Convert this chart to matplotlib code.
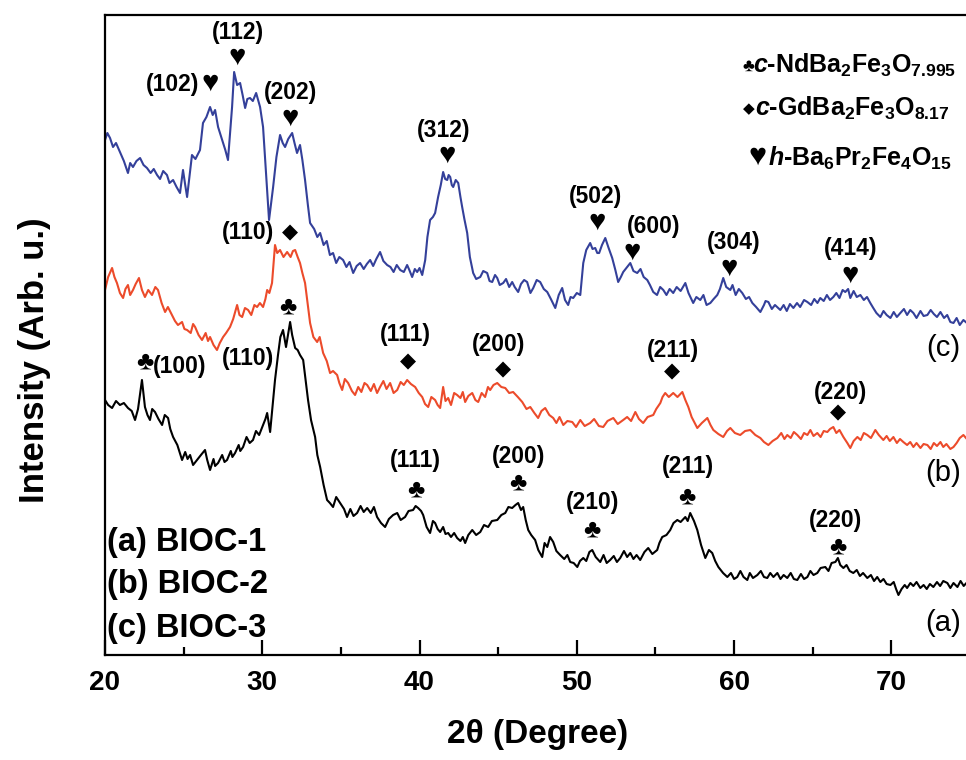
import matplotlib
matplotlib.use('Agg')
import matplotlib.pyplot as plt

plt.rcParams['font.family'] = ['Liberation Sans', 'DejaVu Sans']
plt.rcParams['mathtext.fontset'] = 'custom'
plt.rcParams['mathtext.rm'] = 'Liberation Sans:bold'
plt.rcParams['mathtext.it'] = 'Liberation Sans:italic:bold'
plt.rcParams['mathtext.bf'] = 'Liberation Sans:bold'

# (c) BIOC-3, blue  -- (2theta, intensity in arb. units)
pts_c = [(20.00, 515), (20.15, 522), (20.32, 517), (20.51, 508), (20.7, 512), (20.95, 503),
         (21.2, 494), (21.46, 482), (21.6, 492), (21.78, 488), (22.0, 494), (22.23, 497),
         (22.45, 490), (22.67, 487), (22.9, 482), (23.1, 486), (23.31, 480), (23.5, 476),
         (23.7, 484), (23.94, 480), (24.1, 472), (24.33, 475), (24.55, 468), (24.77, 462),
         (24.96, 485), (25.1, 470), (25.22, 458), (25.4, 482), (25.53, 500), (25.75, 496),
         (26.04, 505), (26.23, 532), (26.45, 538), (26.68, 548), (26.85, 540), (27.00, 545),
         (27.19, 528), (27.35, 520), (27.51, 512), (27.65, 505), (27.82, 495), (28.08, 548),
         (28.21, 583), (28.4, 570), (28.59, 572), (28.75, 560), (28.91, 547), (29.05, 556),
         (29.22, 557), (29.4, 554), (29.61, 562), (29.86, 548), (30.05, 528), (30.31, 465),
         (30.43, 435), (30.69, 468), (30.9, 498), (31.13, 520), (31.3, 512), (31.45, 508),
         (31.65, 516), (31.90, 522), (32.05, 512), (32.21, 502), (32.40, 510), (32.55, 495),
         (32.72, 475), (32.9, 450), (33.04, 432), (33.3, 426), (33.5, 418), (33.68, 422),
         (33.9, 410), (34.1, 414), (34.3, 400), (34.50, 402), (34.7, 392), (34.9, 398),
         (35.14, 395), (35.35, 388), (35.55, 393), (35.78, 382), (36.0, 389), (36.22, 392),
         (36.45, 386), (36.65, 391), (36.86, 395), (37.05, 389), (37.25, 396), (37.49, 403),
         (37.7, 394), (37.94, 390), (38.15, 388), (38.35, 383), (38.55, 390), (38.77, 385),
         (39.0, 383), (39.21, 390), (39.35, 385), (39.53, 378), (39.7, 386), (39.85, 383),
         (40.0, 387), (40.17, 380), (40.36, 395), (40.5, 418), (40.67, 435), (40.85, 438),
         (40.99, 442), (41.18, 458), (41.35, 470), (41.50, 483), (41.63, 476), (41.76, 475),
         (41.85, 480), (41.95, 478), (42.05, 470), (42.14, 468), (42.3, 475), (42.46, 472),
         (42.6, 458), (42.71, 448), (42.85, 436), (43.03, 422), (43.2, 398), (43.41, 382),
         (43.6, 376), (43.86, 378), (44.05, 384), (44.30, 382), (44.45, 374), (44.62, 373),
         (44.8, 380), (44.94, 377), (45.1, 370), (45.32, 372), (45.5, 376), (45.7, 368),
         (45.89, 373), (46.05, 368), (46.27, 363), (46.45, 371), (46.65, 375), (46.84, 373),
         (47.05, 362), (47.23, 367), (47.45, 375), (47.67, 373), (47.9, 366), (48.12, 363),
         (48.35, 356), (48.63, 347), (48.85, 360), (49.07, 367), (49.25, 355), (49.45, 350),
         (49.6, 358), (49.77, 357), (50.0, 362), (50.22, 360), (50.41, 392), (50.6, 405),
         (50.85, 412), (51.0, 406), (51.17, 407), (51.3, 402), (51.42, 402), (51.6, 410),
         (51.81, 417), (52.0, 408), (52.25, 397), (52.45, 385), (52.63, 373), (52.8, 378),
         (52.95, 383), (53.2, 388), (53.40, 392), (53.6, 384), (53.84, 382), (54.05, 386),
         (54.25, 378), (54.48, 375), (54.65, 370), (54.86, 363), (55.1, 360), (55.3, 368),
         (55.50, 365), (55.7, 360), (55.9, 366), (56.13, 362), (56.35, 368), (56.6, 364),
         (56.90, 372), (57.1, 362), (57.40, 352), (57.6, 358), (57.85, 355), (58.05, 360),
         (58.25, 350), (58.49, 352), (58.7, 356), (58.93, 360), (59.1, 366), (59.31, 377),
         (59.5, 368), (59.76, 365), (59.9, 370), (60.1, 360), (60.3, 366), (60.52, 362),
         (60.75, 356), (60.95, 358), (61.16, 352), (61.4, 348), (61.67, 343), (61.9, 350),
         (62.0, 354), (62.18, 353), (62.4, 346), (62.6, 350), (62.94, 345), (63.15, 350),
         (63.35, 344), (63.55, 351), (63.77, 347), (64.0, 352), (64.2, 348), (64.45, 355),
         (64.66, 353), (64.9, 350), (65.1, 356), (65.3, 352), (65.48, 357), (65.7, 354),
         (65.9, 360), (66.1, 355), (66.31, 358), (66.5, 362), (66.7, 357), (66.9, 365),
         (67.07, 363), (67.25, 366), (67.39, 357), (67.6, 364), (67.8, 358), (68.03, 360),
         (68.25, 355), (68.45, 358), (68.66, 352), (68.85, 347), (69.05, 342), (69.30, 338),
         (69.5, 344), (69.7, 340), (69.94, 337), (70.15, 343), (70.35, 338), (70.57, 342),
         (70.8, 346), (71.0, 340), (71.2, 345), (71.40, 342), (71.6, 337), (71.85, 344),
         (72.05, 339), (72.29, 340), (72.5, 345), (72.7, 341), (72.9, 338), (73.12, 343),
         (73.35, 337), (73.55, 340), (73.75, 333), (73.95, 332), (74.15, 337), (74.35, 330),
         (74.58, 335), (74.8, 332), (75.0, 330)]

# (b) BIOC-2, red
pts_b = [(20.00, 365), (20.2, 378), (20.45, 387), (20.6, 378), (20.76, 372), (20.95, 362),
         (21.15, 357), (21.3, 366), (21.46, 370), (21.6, 360), (21.78, 365), (21.95, 371),
         (22.16, 377), (22.35, 365), (22.54, 358), (22.75, 365), (22.99, 360), (23.2, 368),
         (23.37, 365), (23.6, 352), (23.82, 343), (24.0, 348), (24.26, 340), (24.45, 334),
         (24.64, 330), (24.9, 333), (25.05, 326), (25.22, 325), (25.45, 322), (25.6, 331),
         (25.73, 328), (25.95, 320), (26.17, 315), (26.4, 322), (26.55, 314), (26.68, 318),
         (26.9, 310), (27.12, 305), (27.3, 312), (27.51, 318), (27.7, 322), (27.95, 328),
         (28.15, 336), (28.40, 350), (28.55, 340), (28.72, 338), (28.9, 347), (29.10, 345),
         (29.3, 340), (29.5, 350), (29.67, 348), (29.85, 352), (30.05, 348), (30.2, 356),
         (30.31, 365), (30.45, 362), (30.62, 372), (30.81, 410), (30.95, 402), (31.13, 405),
         (31.35, 398), (31.58, 403), (31.8, 398), (31.95, 404), (32.09, 405), (32.25, 398),
         (32.40, 392), (32.55, 382), (32.72, 372), (32.88, 352), (33.04, 332), (33.25, 318),
         (33.49, 313), (33.65, 318), (33.87, 302), (34.1, 294), (34.31, 282), (34.5, 284),
         (34.76, 280), (34.9, 272), (35.08, 265), (35.25, 276), (35.46, 272), (35.7, 264),
         (35.90, 260), (36.1, 268), (36.3, 263), (36.5, 272), (36.67, 270), (36.9, 264),
         (37.1, 271), (37.3, 262), (37.49, 268), (37.7, 274), (37.9, 266), (38.13, 272),
         (38.35, 262), (38.58, 265), (38.8, 273), (39.0, 270), (39.21, 275), (39.45, 271),
         (39.72, 268), (39.95, 262), (40.17, 258), (40.35, 251), (40.55, 248), (40.75, 258),
         (40.99, 255), (41.15, 250), (41.31, 247), (41.50, 268), (41.65, 254), (41.82, 257),
         (42.0, 250), (42.2, 262), (42.39, 260), (42.6, 257), (42.75, 263), (42.90, 253),
         (43.1, 259), (43.35, 262), (43.55, 255), (43.73, 253), (43.95, 262), (44.17, 258),
         (44.35, 268), (44.49, 265), (44.7, 270), (44.94, 272), (45.2, 268), (45.45, 267),
         (45.7, 262), (45.95, 263), (46.25, 258), (46.53, 253), (46.8, 246), (47.04, 248),
         (47.3, 242), (47.54, 237), (47.75, 244), (47.99, 247), (48.25, 240), (48.50, 237),
         (48.7, 232), (48.9, 238), (49.14, 230), (49.4, 234), (49.71, 233), (49.95, 228),
         (50.22, 235), (50.5, 229), (50.85, 232), (51.1, 236), (51.4, 229), (51.68, 228),
         (51.95, 234), (52.32, 237), (52.6, 231), (52.95, 235), (53.2, 238), (53.45, 234),
         (53.72, 243), (53.95, 236), (54.22, 232), (54.5, 238), (54.86, 240), (55.05, 246),
         (55.31, 252), (55.45, 258), (55.62, 262), (55.85, 258), (56.13, 262), (56.4, 258),
         (56.71, 263), (56.9, 255), (57.09, 248), (57.3, 238), (57.66, 227), (57.95, 232),
         (58.30, 237), (58.5, 230), (58.68, 225), (59.0, 221), (59.31, 218), (59.55, 224),
         (59.76, 227), (60.05, 222), (60.39, 220), (60.7, 224), (61.03, 225), (61.35, 220),
         (61.67, 217), (61.9, 213), (62.18, 210), (62.45, 214), (62.75, 217), (63.0, 222),
         (63.2, 216), (63.38, 220), (63.6, 217), (63.8, 223), (64.02, 220), (64.25, 216),
         (64.45, 222), (64.66, 220), (64.85, 225), (65.05, 219), (65.29, 222), (65.5, 218),
         (65.7, 224), (65.93, 223), (66.1, 226), (66.31, 228), (66.5, 222), (66.7, 225),
         (66.95, 218), (67.2, 212), (67.39, 207), (67.6, 214), (67.84, 218), (68.05, 215),
         (68.25, 222), (68.47, 220), (68.7, 217), (68.98, 225), (69.2, 220), (69.49, 215),
         (69.7, 219), (69.9, 214), (70.13, 218), (70.35, 212), (70.55, 216), (70.76, 213),
         (71.0, 210), (71.2, 213), (71.40, 208), (71.6, 212), (71.85, 207), (72.05, 211),
         (72.29, 210), (72.5, 206), (72.7, 212), (72.9, 209), (73.12, 213), (73.3, 208),
         (73.5, 211), (73.75, 206), (73.95, 208), (74.15, 212), (74.35, 217), (74.58, 220),
         (74.8, 216), (75.0, 222)]

# (a) BIOC-1, black
pts_a = [(20.00, 255), (20.2, 250), (20.45, 247), (20.7, 254), (20.95, 250), (21.2, 252),
         (21.46, 247), (21.7, 244), (21.91, 235), (22.1, 246), (22.35, 275), (22.54, 248),
         (22.7, 240), (22.86, 235), (23.0, 246), (23.18, 243), (23.4, 236), (23.63, 230),
         (23.8, 240), (24.01, 237), (24.15, 226), (24.33, 218), (24.6, 210), (24.9, 195),
         (25.1, 203), (25.25, 196), (25.41, 200), (25.6, 190), (25.85, 195), (26.1, 200),
         (26.36, 205), (26.5, 195), (26.68, 185), (26.9, 196), (27.0, 189), (27.19, 192),
         (27.45, 200), (27.6, 193), (27.76, 195), (28.0, 204), (28.1, 198), (28.27, 202),
         (28.5, 210), (28.6, 204), (28.78, 208), (29.0, 218), (29.2, 212), (29.41, 215),
         (29.6, 224), (29.8, 220), (30.05, 230), (30.2, 236), (30.31, 242), (30.50, 223),
         (30.81, 275), (31.0, 300), (31.15, 318), (31.32, 325), (31.51, 308), (31.77, 333),
         (31.9, 320), (32.09, 307), (32.25, 305), (32.40, 300), (32.60, 295), (32.91, 255),
         (33.1, 235), (33.36, 218), (33.5, 200), (33.68, 188), (33.9, 170), (34.12, 155),
         (34.3, 152), (34.50, 148), (34.7, 158), (34.95, 152), (35.2, 146), (35.39, 138),
         (35.6, 146), (35.8, 139), (36.03, 142), (36.25, 149), (36.45, 143), (36.67, 147),
         (36.9, 142), (37.1, 148), (37.30, 138), (37.55, 132), (37.81, 128), (38.05, 136),
         (38.32, 140), (38.58, 142), (38.8, 135), (39.08, 138), (39.3, 144), (39.59, 145),
         (39.75, 149), (39.91, 147), (40.1, 144), (40.23, 140), (40.45, 128), (40.67, 122),
         (40.85, 134), (40.99, 132), (41.15, 126), (41.31, 123), (41.5, 128), (41.65, 121),
         (41.82, 122), (42.0, 118), (42.2, 122), (42.39, 117), (42.6, 114), (42.75, 118),
         (42.90, 112), (43.1, 120), (43.35, 125), (43.6, 120), (43.86, 123), (44.1, 130),
         (44.36, 128), (44.6, 134), (44.94, 135), (45.2, 140), (45.45, 142), (45.65, 148),
         (45.89, 147), (46.1, 150), (46.27, 152), (46.45, 145), (46.59, 148), (46.75, 135),
         (46.91, 125), (47.1, 120), (47.35, 115), (47.55, 105), (47.80, 98), (47.95, 112),
         (48.12, 108), (48.3, 118), (48.50, 113), (48.7, 104), (48.94, 100), (49.2, 96),
         (49.4, 100), (49.58, 93), (49.8, 92), (50.03, 88), (50.2, 94), (50.41, 97),
         (50.6, 94), (50.8, 103), (50.98, 105), (51.2, 98), (51.49, 93), (51.7, 100),
         (51.9, 92), (52.12, 95), (52.35, 99), (52.55, 93), (52.76, 97), (53.0, 104),
         (53.2, 98), (53.40, 102), (53.6, 96), (53.8, 100), (54.03, 95), (54.3, 103),
         (54.54, 107), (54.8, 101), (55.11, 105), (55.25, 112), (55.43, 118), (55.7, 120),
         (55.94, 125), (56.15, 132), (56.39, 135), (56.6, 133), (56.90, 138), (57.05, 134),
         (57.21, 142), (57.45, 134), (57.66, 125), (57.9, 110), (58.17, 97), (58.4, 105),
         (58.61, 102), (58.8, 94), (59.00, 88), (59.3, 82), (59.57, 78), (59.8, 82),
         (60.0, 76), (60.20, 78), (60.4, 84), (60.6, 78), (60.84, 75), (61.0, 82),
         (61.2, 77), (61.48, 80), (61.7, 84), (61.9, 78), (62.11, 77), (62.3, 82),
         (62.5, 78), (62.75, 82), (62.95, 76), (63.15, 80), (63.38, 77), (63.6, 82),
         (63.8, 76), (64.02, 75), (64.25, 81), (64.45, 76), (64.66, 78), (64.85, 84),
         (65.05, 80), (65.29, 82), (65.5, 87), (65.80, 88), (66.0, 84), (66.2, 92),
         (66.44, 93), (66.6, 97), (66.75, 90), (66.95, 87), (67.15, 90), (67.35, 84),
         (67.58, 82), (67.8, 85), (68.0, 79), (68.2, 82), (68.47, 77), (68.7, 80),
         (68.9, 74), (69.1, 78), (69.30, 73), (69.5, 76), (69.7, 71), (69.94, 70),
         (70.15, 73), (70.3, 66), (70.45, 60), (70.65, 66), (70.85, 70), (71.0, 67),
         (71.21, 72), (71.4, 69), (71.6, 73), (71.84, 67), (72.05, 70), (72.25, 66),
         (72.45, 71), (72.67, 68), (72.9, 73), (73.1, 69), (73.3, 74), (73.56, 72),
         (73.75, 67), (73.95, 72), (74.2, 68), (74.4, 74), (74.6, 69), (74.77, 72),
         (75.0, 70)]

# peak labels: (text, 2theta, height)
hkl_c = [('(102)', 24.3, 571), ('(112)', 28.46, 622), ('(202)', 31.77, 562),
         ('(312)', 41.5, 524), ('(502)', 51.17, 459), ('(600)', 54.86, 428),
         ('(304)', 59.95, 413), ('(414)', 67.39, 406)]
heart_pos = [(26.7, 572), (28.4, 598), (31.77, 537), (41.76, 500),
             (51.3, 433), (53.52, 403), (59.69, 387), (67.39, 380)]
hkl_b = [('(110)', 29.1, 422), ('(111)', 39.08, 321), ('(200)', 45.0, 311),
         ('(211)', 56.13, 304), ('(220)', 66.76, 263)]
diamond_pos = [(31.77, 422), (39.27, 293), (45.32, 285), (56.07, 283), (66.63, 242)]
hkl_a = [('(100)', 24.75, 288), ('(110)', 29.1, 297), ('(111)', 39.72, 194),
         ('(200)', 46.27, 198), ('(210)', 50.98, 153), ('(211)', 57.09, 189),
         ('(220)', 66.44, 134)]
club_pos = [(22.54, 293), (31.64, 348), (39.78, 165), (46.27, 172),
            (50.98, 125), (57.02, 158), (66.57, 108)]

theta_c, int_c = zip(*pts_c)
theta_b, int_b = zip(*pts_b)
theta_a, int_a = zip(*pts_a)

fig = plt.figure(figsize=(9.66, 7.6), dpi=100)
ax = fig.add_axes([105 / 966, 105 / 760, 865 / 966, 640 / 760])

ax.plot(theta_a, int_a, color='black', lw=1.5)
ax.plot(theta_b, int_b, color='#ec4b2b', lw=1.5)
ax.plot(theta_c, int_c, color='#34409a', lw=1.5)

lab_kw = dict(ha='center', va='center', fontsize=16.5, fontweight='bold')
for t, x, y in hkl_c + hkl_b + hkl_a:
    ax.text(x, y, t, **lab_kw)
for x, y in heart_pos:
    ax.text(x, y, '\u2665', ha='center', va='center', fontsize=21)
for x, y in diamond_pos:
    ax.text(x, y, '\u25c6', ha='center', va='center', fontsize=15)
for x, y in club_pos:
    ax.text(x, y, '\u2663', ha='center', va='center', fontsize=19)

# phase legend
ax.text(60.9, 589, '\u2663', ha='center', va='center', fontsize=13)
ax.text(61.22, 590, r'$c$-NdBa$_2$Fe$_3$O$_{7.995}$', ha='left', va='center',
        fontsize=18, fontweight='bold')
ax.text(60.95, 546, '\u25c6', ha='center', va='center', fontsize=11)
ax.text(61.35, 547, r'$c$-GdBa$_2$Fe$_3$O$_{8.17}$', ha='left', va='center',
        fontsize=18, fontweight='bold')
ax.text(61.5, 498, '\u2665', ha='center', va='center', fontsize=22)
ax.text(62.18, 497, r'$h$-Ba$_6$Pr$_2$Fe$_4$O$_{15}$', ha='left', va='center',
        fontsize=18, fontweight='bold')

# curve tags
for t, y in [('(c)', 307), ('(b)', 182), ('(a)', 32)]:
    ax.text(73.3, y, t, ha='center', va='center', fontsize=21)
for t, y in [('(a) BIOC-1', 113), ('(b) BIOC-2', 70), ('(c) BIOC-3', 26)]:
    ax.text(20.15, y, t, ha='left', va='center', fontsize=23.5, fontweight='bold')

ax.set_xlim(20, 75)
ax.set_ylim(0, 640)
ax.set_yticks([])
ax.set_xticks([20, 30, 40, 50, 60, 70])
ax.set_xticks([25, 35, 45, 55, 65, 75], minor=True)
ax.tick_params(axis='x', which='major', direction='in', length=11, width=1.6,
               labelsize=20, pad=11)
ax.tick_params(axis='x', which='minor', direction='in', length=6, width=1.6)
for lbl in ax.get_xticklabels():
    lbl.set_fontweight('bold')
for s in ['left', 'bottom', 'top']:
    ax.spines[s].set_linewidth(1.6)
ax.spines['right'].set_visible(False)

ax.set_xlabel('2\u03b8 (Degree)', fontsize=24, fontweight='bold')
ax.xaxis.set_label_coords(0.5, -0.1)
ax.set_ylabel('Intensity (Arb. u.)', fontsize=25, fontweight='bold')
ax.yaxis.set_label_coords(-0.062, 0.461)

fig.savefig('out.png', dpi=100)
